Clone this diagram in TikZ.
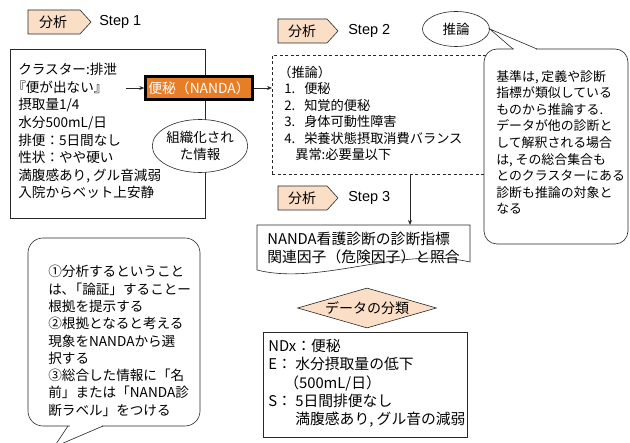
\documentclass[tikz,border=0pt]{standalone}
\usepackage{fontspec}
\setmainfont{Noto Sans CJK JP}
\newfontfamily\lat{Liberation Sans}
\usetikzlibrary{shapes.geometric,arrows.meta}
\definecolor{peach}{RGB}{251,222,198}
\definecolor{orng}{RGB}{230,126,40}
\definecolor{edge}{RGB}{40,40,40}
\newcommand{\nnum}[1]{\makebox[20pt][l]{#1.}}
\begin{document}
\begin{tikzpicture}[x=1pt,y=-1pt, line width=0.6pt, draw=edge,
  txt/.style={inner sep=0pt, anchor=north west, align=left, font=\fontsize{13.6}{17.6}\selectfont},
  tagshape/.style={draw=edge, fill=peach, line width=0.6pt},
  taglabel/.style={inner sep=0pt, font=\fontsize{14}{16}\selectfont},
  steplabel/.style={inner sep=0pt, anchor=west, font=\lat\fontsize{14.5}{16}\selectfont},
  plainbox/.style={draw=edge, anchor=north west, inner sep=0pt},
  arr/.style={-{Stealth[length=5pt,width=4pt]}, line width=0.7pt}]

\useasboundingbox (0,0) rectangle (630,443);

% ---- Step tags
\draw[tagshape] (28,10) -- (80,10) -- (91,22) -- (80,34) -- (28,34) -- cycle;
\node[taglabel] (s1a) at (53,22) {分析};
\node[steplabel] (s1) at (99,22) {Step 1};

\draw[tagshape] (278,19) -- (327,19) -- (338,31) -- (327,43) -- (278,43) -- cycle;
\node[taglabel] (s2a) at (302,31) {分析};
\node[steplabel] (s2) at (348,31) {Step 2};

\draw[tagshape] (278,186) -- (327,186) -- (338,198) -- (327,210) -- (278,210) -- cycle;
\node[taglabel] (s3a) at (302,198) {分析};
\node[steplabel] (s3) at (348,198) {Step 3};

% ---- Box 1
\node[plainbox, minimum width=195pt, minimum height=169pt] (box1) at (10,49) {};
\node[txt] (t1) at (18,63) {クラスター:排泄\\\hspace*{-6pt}『便が出ない』\\摂取量1/4\\水分500mL/日\\排便：5日間なし\\性状：やや硬い\\満腹感あり, グル音減弱\\入院からベット上安静};

\node[ellipse, draw=edge, fill=white, minimum width=78pt, minimum height=53pt, inner sep=0pt,
  align=center, font=\fontsize{13.5}{17}\selectfont] (org) at (200,146) {組織化され\\た情報};

\node[draw=black, line width=2.4pt, fill=orng, text=white, minimum width=107pt, minimum height=23pt,
  inner sep=0pt, font=\fontsize{13.8}{16}\selectfont] (nanda) at (199,88) {便秘（NANDA）};

\coordinate (c1) at (126,88);
\draw[arr] (c1) -- (nanda.west);

% ---- dashed inference box
\node[plainbox, dash pattern=on 3pt off 2.5pt, minimum width=240pt, minimum height=119pt] (dbox) at (272,55) {};
\draw[arr] (nanda.east) -- (nanda.east -| dbox.west);
\node[txt, font=\fontsize{13.2}{16.4}\selectfont] (t2) at (284,66)
  {\hspace*{-6pt}（推論）\\\nnum{1}便秘\\\nnum{2}知覚的便秘\\\nnum{3}身体可動性障害\\\nnum{4}栄養状態摂取消費バランス\\\hspace*{11pt}異常:必要量以下};

% ---- 推論 ellipse and right callout
\node[ellipse, draw=edge, fill=white, minimum width=67pt, minimum height=35pt, inner sep=0pt,
  font=\fontsize{13.5}{16}\selectfont] (inf) at (456,29) {推論};

\draw[fill=white, rounded corners=13pt] (484,49) rectangle (628,244);
\fill[white] (514,47) rectangle (536,51);
\draw[line join=miter] (513,49) -- (inf.east) -- (537,49);
\node[txt, font=\fontsize{12.9}{16.6}\selectfont] (t3) at (496,70)
  {基準は, 定義や診断\\指標が類似している\\ものから推論する.\\データが他の診断と\\して解釈される場合\\は, その総合集合も\\とのクラスターにある\\診断も推論の対象と\\なる};

% ---- arrow to document
\coordinate (a3) at (410,174);
\coordinate (doctop) at (410,225);
\draw[arr] (a3) -- (doctop);

\draw[draw=edge, fill=white] (257,225) -- (470,225) -- (470,262)
  .. controls (400,246) and (320,286) .. (257,270) -- cycle;
\node[txt, font=\fontsize{14.8}{18}\selectfont] (doc) at (267,232)
  {NANDA看護診断の診断指標\\関連因子（危険因子）と照合};

% ---- diamond
\node[diamond, draw=edge, fill=peach, minimum width=139pt, minimum height=40pt, aspect=3.5,
  inner sep=0pt, font=\fontsize{14}{16}\selectfont] (cls) at (367,308) {データの分類};

% ---- NDx box
\node[plainbox, minimum width=204pt, minimum height=105pt] (ndx) at (263,332) {};
\node[txt, font=\fontsize{14.8}{18.2}\selectfont] (t4) at (268,339)
  {NDx：便秘\\\makebox[27pt][l]{E：}水分摂取量の低下\\\hspace*{16pt}（500mL/日）\\\makebox[27pt][l]{S：}5日間排便なし\\\hspace*{27pt}満腹感あり, グル音の減弱};

% ---- bottom-left callout
\draw[fill=white, rounded corners=15pt] (28,238) rectangle (200,426);
\fill[white] (69.5,424) rectangle (101.5,428);
\draw[line join=miter] (68,426) -- (54,447) -- (103,426);
\node[txt, font=\fontsize{13.6}{17.3}\selectfont] (t5) at (48,265)
  {①分析するということ\\は､「論証」することー\\根拠を提示する\\②根拠となると考える\\現象をNANDAから選\\択する\\③総合した情報に「名\\前」または「NANDA診\\断ラベル」をつける};

\end{tikzpicture}
\end{document}
